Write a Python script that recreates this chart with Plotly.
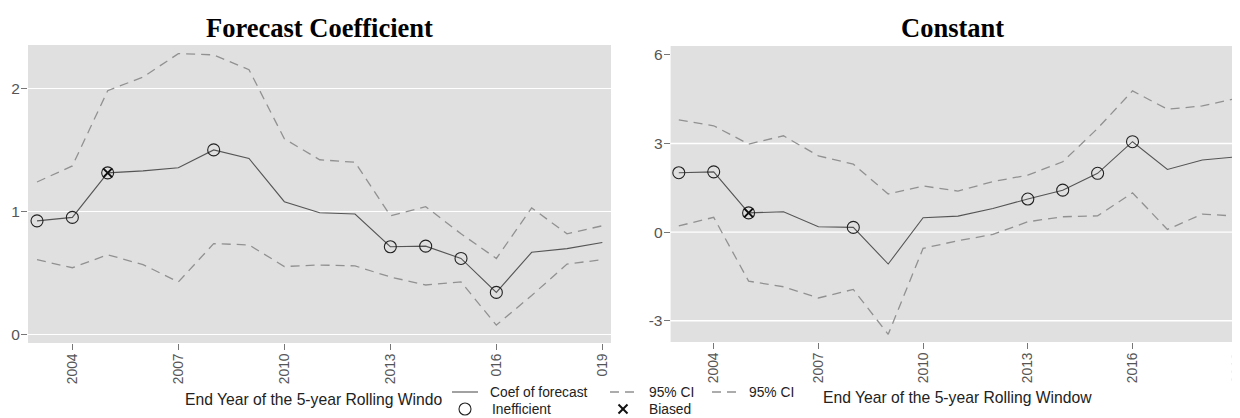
import plotly.graph_objects as go

years = list(range(2003, 2020))

# Left panel: Forecast Coefficient
coef_left = [0.925, 0.953, 1.314, 1.33, 1.355, 1.50, 1.43, 1.08, 0.99, 0.98, 0.715, 0.72, 0.62, 0.345, 0.67, 0.70, 0.75]
upper_left = [1.24, 1.37, 1.98, 2.09, 2.28, 2.27, 2.15, 1.59, 1.42, 1.40, 0.966, 1.04, 0.82, 0.62, 1.03, 0.82, 0.885]
lower_left = [0.61, 0.545, 0.65, 0.57, 0.43, 0.74, 0.73, 0.555, 0.567, 0.56, 0.47, 0.405, 0.43, 0.08, 0.32, 0.575, 0.61]
ineff_left = [2003, 2004, 2005, 2008, 2013, 2014, 2015, 2016]
biased_left = [2005]

# Right panel: Constant
coef_right = [2.01, 2.04, 0.65, 0.69, 0.18, 0.16, -1.08, 0.485, 0.54, 0.80, 1.12, 1.42, 1.99, 3.06, 2.12, 2.44, 2.55]
upper_right = [3.80, 3.60, 2.98, 3.26, 2.58, 2.30, 1.29, 1.56, 1.39, 1.71, 1.93, 2.38, 3.51, 4.78, 4.16, 4.27, 4.53]
lower_right = [0.21, 0.50, -1.66, -1.85, -2.23, -1.94, -3.46, -0.55, -0.29, -0.08, 0.35, 0.52, 0.55, 1.33, 0.09, 0.61, 0.54]
ineff_right = [2003, 2004, 2005, 2008, 2013, 2014, 2015, 2016]
biased_right = [2005]

xtick_vals = [2004, 2007, 2010, 2013, 2016, 2019]
xtick_text_left = ["2004", "2007", "2010", "2013", "016", "019"]
xtick_text_right = ["2004", "2007", "2010", "2013", "2016", "2019"]
ytick_left = [0, 1, 2]
ytick_left_text = ["0", "1", "2"]
ytick_right = [-3, 0, 3, 6]
ytick_right_text = ["-3", "0", "3", "6"]
grid_right = [-3, 0, 3]

# page has an 8px body margin: figure occupies 8..1240 x 8..418 of the window
OFF = 8
W, H = 1240 - OFF, 418 - OFF
COEF_COLOR = "#555555"
CI_COLOR = "#919191"
DASH = "9px,6px"
BG = "#e0e0e0"


def px(x):
    return (x - OFF) / W


def py(y):
    return 1 - (y - OFF) / H


fig = go.Figure()


def add_panel(coef, upper, lower, ineff, biased, xa, ya):
    fig.add_trace(go.Scatter(x=years, y=upper, mode="lines", xaxis=xa, yaxis=ya,
                             line=dict(color=CI_COLOR, width=1.3, dash=DASH), showlegend=False))
    fig.add_trace(go.Scatter(x=years, y=lower, mode="lines", xaxis=xa, yaxis=ya,
                             line=dict(color=CI_COLOR, width=1.3, dash=DASH), showlegend=False))
    fig.add_trace(go.Scatter(x=years, y=coef, mode="lines", xaxis=xa, yaxis=ya,
                             line=dict(color=COEF_COLOR, width=1.1), showlegend=False))
    iy = [coef[years.index(y)] for y in ineff]
    fig.add_trace(go.Scatter(x=ineff, y=iy, mode="markers", xaxis=xa, yaxis=ya,
                             marker=dict(symbol="circle-open", size=12, color="#222222",
                                         line=dict(width=1.1, color="#222222")), showlegend=False))
    by = [coef[years.index(y)] for y in biased]
    fig.add_trace(go.Scatter(x=biased, y=by, mode="markers", xaxis=xa, yaxis=ya,
                             marker=dict(symbol="x-thin-open", size=9, color="#111111",
                                         line=dict(width=2, color="#111111")), showlegend=False))


add_panel(coef_left, upper_left, lower_left, ineff_left, biased_left, "x", "y")
add_panel(coef_right, upper_right, lower_right, ineff_right, biased_right, "x2", "y2")

xtickfont = dict(family="Liberation Sans, Arial, sans-serif", size=13.8, color="#555555")
ytickfont = dict(family="Liberation Sans, Arial, sans-serif", size=15.5, color="#555555")

xcommon = dict(showgrid=False, zeroline=False, ticks="outside", ticklen=6, tickwidth=1,
               tickcolor="#777777", tickangle=-90, tickfont=xtickfont, showline=False,
               tickvals=xtick_vals, automargin=False, ticklabelstandoff=-2,
               ticklabeloverflow="allow")
ycommon = dict(zeroline=False, ticks="outside", ticklen=6, tickwidth=1, tickcolor="#777777",
               tickfont=ytickfont, showline=False, automargin=False, ticklabelstandoff=-2)

fig.update_layout(
    width=W, height=H,
    margin=dict(l=0, r=0, t=0, b=0, autoexpand=False),
    paper_bgcolor="white",
    plot_bgcolor=BG,
    showlegend=False,
    xaxis=dict(domain=[px(28), px(611)], range=[2002.745, 2019.245], anchor="y",
               ticktext=xtick_text_left, **xcommon),
    yaxis=dict(domain=[py(343), py(45)], range=[-0.065, 2.35], anchor="x",
               tickvals=ytick_left, ticktext=ytick_left_text,
               showgrid=True, gridcolor="white", gridwidth=1.3, **ycommon),
    xaxis2=dict(domain=[px(670.6), 1.0], range=[2002.765, 2019.08], anchor="y2",
                ticktext=xtick_text_right, **xcommon),
    yaxis2=dict(domain=[py(342), py(46)], range=[-3.72, 6.3], anchor="x2",
                tickvals=ytick_right, ticktext=ytick_right_text, showgrid=False, **ycommon),
)

annotations = []
title_font = dict(family="Liberation Serif, Times New Roman, serif", size=26.5, color="black")
annotations.append(dict(text="<b>Forecast Coefficient</b>", x=px(319), y=py(28), xref="paper", yref="paper",
                        showarrow=False, font=title_font, xanchor="center", yanchor="middle"))
annotations.append(dict(text="<b>Constant</b>", x=px(952), y=py(28), xref="paper", yref="paper",
                        showarrow=False, font=title_font, xanchor="center", yanchor="middle"))

axis_title_font = dict(family="Liberation Sans, Arial, sans-serif", size=15.7, color="#222222")
annotations.append(dict(text="End Year of the 5-year Rolling Windo", x=px(314), y=py(399),
                        xref="paper", yref="paper", showarrow=False, font=axis_title_font,
                        xanchor="center", yanchor="middle"))
annotations.append(dict(text="End Year of the 5-year Rolling Window", x=px(957), y=py(397),
                        xref="paper", yref="paper", showarrow=False, font=axis_title_font,
                        xanchor="center", yanchor="middle"))

leg_font = dict(family="Liberation Sans, Arial, sans-serif", size=13.8, color="#222222")
legend_rows = [
    ("Coef of forecast", 488, 392),
    ("95% CI", 647, 392),
    ("95% CI", 747, 392),
    ("Inefficient", 490, 409),
    ("Biased", 647, 409),
]
for txt, lx, ly in legend_rows:
    annotations.append(dict(text=txt, x=px(lx), y=py(ly), xref="paper", yref="paper",
                            showarrow=False, font=leg_font, xanchor="left", yanchor="middle"))

shapes = []
# white grid lines of the right panel (none at the top tick)
for gv in grid_right:
    shapes.append(dict(type="line", xref="x2 domain", yref="y2", x0=0, x1=1, y0=gv, y1=gv,
                       layer="below", line=dict(color="white", width=1.3)))

shapes += [
    dict(type="line", xref="paper", yref="paper", x0=px(452), x1=px(478), y0=py(392), y1=py(392),
         line=dict(color=COEF_COLOR, width=1.1)),
    dict(type="line", xref="paper", yref="paper", x0=px(610), x1=px(636), y0=py(392), y1=py(392),
         line=dict(color=CI_COLOR, width=1.3, dash=DASH)),
    dict(type="line", xref="paper", yref="paper", x0=px(712), x1=px(738), y0=py(392), y1=py(392),
         line=dict(color=CI_COLOR, width=1.3, dash=DASH)),
    dict(type="circle", xref="paper", yref="paper", x0=px(459), x1=px(471), y0=py(415), y1=py(403),
         line=dict(color="#222222", width=1.1)),
    dict(type="line", xref="paper", yref="paper", x0=px(618.5), x1=px(627.5), y0=py(404.5), y1=py(413.5),
         line=dict(color="#111111", width=2)),
    dict(type="line", xref="paper", yref="paper", x0=px(618.5), x1=px(627.5), y0=py(413.5), y1=py(404.5),
         line=dict(color="#111111", width=2)),
]

fig.update_layout(annotations=annotations, shapes=shapes)

fig.write_html("out.html")
